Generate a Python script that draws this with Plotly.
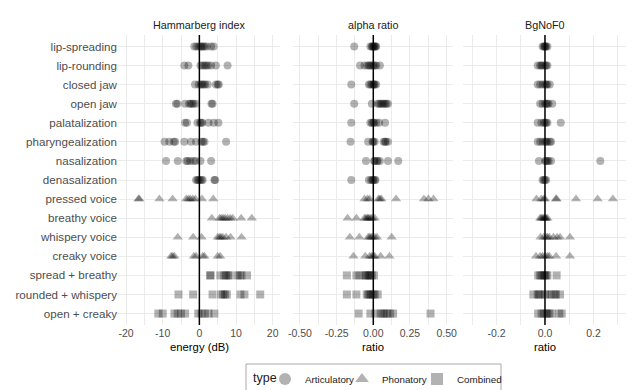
import plotly.graph_objects as go

categories = ["lip-spreading", "lip-rounding", "closed jaw", "open jaw", "palatalization",
              "pharyngealization", "nasalization", "denasalization", "pressed voice",
              "breathy voice", "whispery voice", "creaky voice", "spread + breathy",
              "rounded + whispery", "open + creaky"]
category_types = ["Articulatory"] * 8 + ["Phonatory"] * 4 + ["Combined"] * 3
type_names = ["Articulatory", "Phonatory", "Combined"]
type_symbols = ["circle", "triangle-up", "square"]

panel_titles = ["Hammarberg index", "alpha ratio", "BgNoF0"]
axis_titles = ["energy (dB)", "ratio", "ratio"]

hammarberg_values = [
    [-1.4, -0.8, -0.2, 0.3, 0.6, 1.0, 1.4, 2.0, 3.2, 3.9],
    [-4.1, -3.0, 0.3, 0.9, 1.4, 1.9, 2.4, 3.2, 4.5, 7.7],
    [-1.2, -0.2, 0.4, 0.7, 1.2, 1.6, 2.3, 4.5, 5.0, 5.3],
    [-6.4, -6.0, -3.9, -2.8, -2.4, -2.0, -1.6, -0.9, 3.3, 3.6],
    [-3.9, -3.4, -0.5, 0.2, 0.5, 0.8, 2.5, 3.9, 5.2],
    [-9.5, -8.2, -7.0, -6.6, -4.1, -2.3, -0.9, 0.6, 1.0, 1.4, 7.3],
    [-9.1, -5.9, -3.6, -3.2, -2.5, -1.6, -1.0, 0.3, 3.2],
    [-0.9, -0.5, -0.2, 0.2, 0.6, 0.9, 4.1, 4.3],
    [-16.6, -16.4, -10.9, -7.3, -3.6, -3.0, -2.5, -1.8, -1.1, 0.7, 3.8],
    [3.4, 5.5, 6.0, 6.5, 7.0, 7.7, 8.4, 9.1, 11.4, 14.3],
    [-5.9, -1.7, 0.6, 5.0, 5.5, 5.9, 6.4, 7.3, 8.5, 11.5],
    [-7.7, -7.3, -6.8, -1.5, -0.9, 0.9, 1.4, 5.0, 5.7],
    [2.9, 3.1, 5.7, 6.8, 7.3, 7.8, 8.2, 10.4, 11.0, 11.5, 13.0],
    [-5.7, -1.7, 3.6, 5.9, 6.5, 7.0, 7.5, 11.2, 12.3, 16.6],
    [-11.2, -10.0, -6.8, -5.9, -5.0, -3.9, -0.3, 0.6, 1.5, 2.5, 4.1],
]

alpha_values = [
    [-0.13, -0.02, -0.01, -0.005, 0.0, 0.005, 0.01, 0.015, 0.02],
    [-0.09, -0.06, -0.04, -0.03, -0.02, -0.01, 0.0, 0.01, 0.02, 0.045],
    [-0.15, -0.03, -0.02, -0.01, 0.0, 0.005, 0.01, 0.02],
    [-0.13, -0.01, 0.03, 0.04, 0.05, 0.06, 0.07, 0.08, 0.09, 0.1],
    [-0.15, -0.02, -0.01, 0.0, 0.005, 0.02, 0.04, 0.08],
    [-0.155, -0.035, -0.005, 0.0, 0.01, 0.07, 0.08, 0.085, 0.1],
    [-0.05, 0.005, 0.01, 0.025, 0.03, 0.045, 0.1, 0.17],
    [-0.15, -0.03, -0.015, -0.005, 0.0, 0.01, 0.015],
    [-0.06, -0.04, -0.025, 0.035, 0.045, 0.055, 0.155, 0.345, 0.375, 0.41],
    [-0.175, -0.115, -0.06, -0.05, -0.04, -0.035, -0.025, -0.015, -0.005, 0.01],
    [-0.16, -0.095, -0.035, -0.025, -0.015, -0.005, 0.01, 0.025, 0.125],
    [-0.135, -0.055, -0.025, -0.01, 0.0, 0.01, 0.05, 0.11],
    [-0.18, -0.115, -0.095, -0.06, -0.05, -0.04, -0.03, -0.02, -0.01, 0.005],
    [-0.18, -0.115, -0.045, -0.035, -0.025, -0.015, 0.0, 0.01, 0.03],
    [-0.1, -0.02, 0.015, 0.05, 0.065, 0.075, 0.095, 0.115, 0.135, 0.39],
]

bgnof0_values = [
    [-0.01, -0.005, 0.0, 0.0, 0.005, 0.01],
    [-0.03, -0.02, -0.015, -0.01, 0.0, 0.005, 0.01],
    [-0.03, -0.02, -0.01, 0.0, 0.005, 0.01, 0.02],
    [-0.02, -0.01, 0.0, 0.005, 0.01, 0.015, 0.03],
    [-0.03, -0.015, -0.005, 0.0, 0.005, 0.01, 0.065],
    [-0.03, -0.02, -0.01, 0.0, 0.005, 0.01, 0.02, 0.025],
    [-0.025, 0.0, 0.005, 0.01, 0.015, 0.025, 0.228],
    [-0.01, -0.005, 0.0, 0.005],
    [-0.035, -0.015, -0.005, 0.0, 0.045, 0.048, 0.128, 0.217, 0.28],
    [-0.02, -0.015, -0.01, -0.005, 0.0, 0.0, 0.005, 0.01],
    [-0.018, -0.005, 0.005, 0.01, 0.018, 0.035, 0.05, 0.062, 0.103],
    [-0.037, -0.02, -0.01, 0.0, 0.01, 0.018, 0.046, 0.103],
    [-0.028, -0.02, -0.014, -0.005, 0.0, 0.005, 0.01, 0.048],
    [-0.048, -0.03, -0.025, -0.018, 0.0, 0.01, 0.028, 0.04, 0.045, 0.062],
    [-0.028, -0.014, -0.005, 0.004, 0.01, 0.018, 0.028, 0.059, 0.069],
]

x_ranges = [[-22.2, 22.0], [-0.547, 0.543], [-0.338, 0.334]]
x_tickvals = [[-20, -10, 0, 10, 20], [-0.5, -0.25, 0, 0.25, 0.5], [-0.2, 0, 0.2]]
x_ticktext = [["-20", "-10", "0", "10", "20"],
              ["-0.50", "-0.25", "0.00", "0.25", "0.50"],
              ["-0.2", "0.0", "0.2"]]
x_minor_dtick = [5, 0.125, 0.1]

# page body has an 8px margin: the figure is drawn at (8, 8) in the window
OFF = 8
W, H = 637 - OFF, 390 - OFF
PLOT_L, PLOT_R, PLOT_T, PLOT_B = 118, 626, 35, 325   # window pixels of the panel area
ML, MR, MT, MB = PLOT_L - OFF, (W + OFF) - PLOT_R, PLOT_T - OFF, (H + OFF) - PLOT_B
pw = W - ML - MR
ph = H - MT - MB
panel_px = [(118, 280), (293, 453), (463, 626)]
domains = [[(a - PLOT_L) / pw, (b - PLOT_L) / pw] for a, b in panel_px]


def px_x(v):
    return (v - PLOT_L) / pw


def px_y(v):
    return (PLOT_B - v) / ph


FONT = "Liberation Sans, Arial, sans-serif"
GRID = "#ebebeb"
MARK = "rgba(0,0,0,0.3)"
legend_entry_widths = [32, 30, 50]

fig = go.Figure()
all_values = [hammarberg_values, alpha_values, bgnof0_values]
for p, vals in enumerate(all_values):
    xa = "x" if p == 0 else f"x{p+1}"
    ya = "y" if p == 0 else f"y{p+1}"
    for t, tname in enumerate(type_names):
        xs, ys = [], []
        for c, cat in enumerate(categories):
            if category_types[c] != tname:
                continue
            for v in vals[c]:
                xs.append(v)
                ys.append(cat)
        fig.add_trace(go.Scatter(
            x=xs, y=ys, mode="markers", xaxis=xa, yaxis=ya,
            name=tname, legendgroup=tname, showlegend=(p == 0),
            legendwidth=legend_entry_widths[t],
            marker=dict(symbol=type_symbols[t], size=8 if t != 1 else 9,
                        color=MARK, line=dict(width=0)),
            hoverinfo="skip",
        ))

layout = dict(
    width=W, height=H,
    margin=dict(l=ML, r=MR, t=MT, b=MB, pad=0, autoexpand=False),
    paper_bgcolor="white", plot_bgcolor="white",
    font=dict(family=FONT, size=11.5, color="#4d4d4d"),
    legend=dict(
        orientation="h", x=px_x(285 - 20), xanchor="left",
        y=px_y(379), yanchor="middle",
        borderwidth=0, bgcolor="rgba(0,0,0,0)",
        font=dict(size=9.8, color="#1a1a1a"),
        itemsizing="constant", tracegroupgap=0, entrywidthmode="pixels",
    ),
    showlegend=True,
)

for p in range(3):
    xkey = "xaxis" if p == 0 else f"xaxis{p+1}"
    ykey = "yaxis" if p == 0 else f"yaxis{p+1}"
    layout[xkey] = dict(
        domain=domains[p], anchor="y" if p == 0 else f"y{p+1}",
        range=x_ranges[p], tickmode="array",
        tickvals=x_tickvals[p], ticktext=x_ticktext[p],
        showgrid=True, gridcolor=GRID, gridwidth=1,
        minor=dict(dtick=x_minor_dtick[p], tick0=0, showgrid=True, gridcolor=GRID, gridwidth=0.7),
        zeroline=False, showline=False, ticks="", automargin=False,
        tickfont=dict(size=10.5, color="#4d4d4d"),
    )
    layout[ykey] = dict(
        domain=[0, 1], anchor="x" if p == 0 else f"x{p+1}",
        type="category", categoryorder="array", categoryarray=categories,
        range=[len(categories) - 0.4, -0.6],
        showgrid=True, gridcolor=GRID, gridwidth=1,
        zeroline=False, showline=False, ticks="", automargin=False,
        showticklabels=(p == 0),
        tickfont=dict(size=11.6, color="#4d4d4d"),
    )
    if p > 0:
        layout[ykey]["matches"] = "y"

fig.update_layout(**layout)

ann = []
for p in range(3):
    xc = (domains[p][0] + domains[p][1]) / 2
    ann.append(dict(text=panel_titles[p], x=xc, y=px_y(25), xref="paper", yref="paper",
                    showarrow=False, xanchor="center", yanchor="middle",
                    font=dict(size=10.8, color="#1a1a1a")))
    ann.append(dict(text=axis_titles[p], x=xc, y=px_y(347), xref="paper", yref="paper",
                    showarrow=False, xanchor="center", yanchor="middle",
                    font=dict(size=11.3, color="#000000")))
    fig.add_shape(type="line", xref="x" if p == 0 else f"x{p+1}",
                  yref=("y" if p == 0 else f"y{p+1}") + " domain",
                  x0=0, x1=0, y0=0, y1=1, line=dict(color="black", width=1.5))

# legend frame and title
ann.append(dict(text="type", x=px_x(251), y=px_y(378), xref="paper", yref="paper",
                showarrow=False, xanchor="left", yanchor="middle",
                font=dict(size=12.5, color="#1a1a1a")))
fig.add_shape(type="rect", xref="paper", yref="paper",
              x0=px_x(246), x1=px_x(501), y0=px_y(364), y1=px_y(396),
              line=dict(color="#a8a8a8", width=1), fillcolor="rgba(0,0,0,0)")
fig.update_layout(annotations=ann)

fig.write_html("out.html")
